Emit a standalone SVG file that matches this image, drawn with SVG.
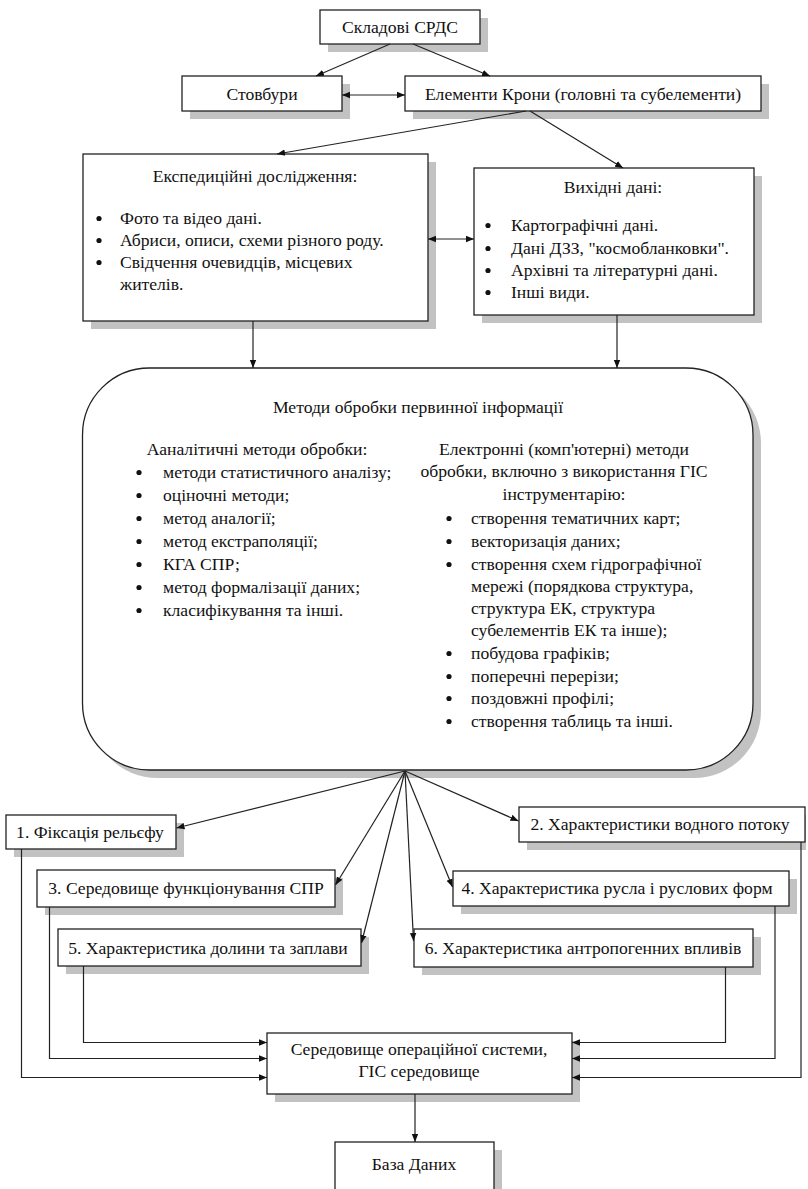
<svg xmlns="http://www.w3.org/2000/svg" width="808" height="1189" viewBox="0 0 808 1189">
<defs>
<style>
.box{fill:#fff;stroke:#222;stroke-width:1.3}
.sh{fill:#c2c2c2}
.t{font-family:"Liberation Serif","Times New Roman",serif;font-size:17.6px;fill:#111}
.c{text-anchor:middle}
.ln{fill:none;stroke:#222;stroke-width:1.2}
.bl{fill:#111}
</style>
<marker id="ah" viewBox="0 0 10 10" refX="10" refY="5" markerWidth="8" markerHeight="8" markerUnits="userSpaceOnUse" orient="auto-start-reverse">
<path d="M0,1 L10,5 L0,9 Z" fill="#111"/>
</marker>
</defs>
<rect width="808" height="1189" fill="#fff"/>

<g id="skladovi">
<rect class="sh" x="328" y="18" width="160" height="34"/>
<rect class="box" x="320" y="10" width="160" height="34"/>
<text class="t c" x="400" y="33">Складові СРДС</text>
</g>

<g id="stovbury">
<rect class="sh" x="190" y="84" width="160" height="35"/>
<rect class="box" x="182" y="76" width="160" height="35"/>
<text class="t c" x="262" y="100">Стовбури</text>
</g>

<g id="elementy">
<rect class="sh" x="413" y="84" width="356" height="35"/>
<rect class="box" x="405" y="76" width="356" height="35"/>
<text class="t c" x="583" y="100">Елементи Крони (головні та субелементи)</text>
</g>

<g id="ekspedytsiyni">
<rect class="sh" x="91" y="162" width="345" height="167"/>
<rect class="box" x="83" y="154" width="345" height="167"/>
<text class="t c" x="255" y="182">Експедиційні дослідження:</text>
<circle class="bl" cx="99" cy="218.5" r="2.6"/>
<circle class="bl" cx="99" cy="240.5" r="2.6"/>
<circle class="bl" cx="99" cy="262.5" r="2.6"/>
<text class="t" x="120" y="224">Фото та відео дані.</text>
<text class="t" x="120" y="246">Абриси, описи, схеми різного роду.</text>
<text class="t" x="120" y="268">Свідчення очевидців, місцевих</text>
<text class="t" x="120" y="290">жителів.</text>
</g>

<g id="vykhidni">
<rect class="sh" x="482" y="176" width="280" height="147"/>
<rect class="box" x="474" y="168" width="280" height="147"/>
<text class="t c" x="613" y="193">Вихідні дані:</text>
<circle class="bl" cx="488" cy="225.5" r="2.6"/>
<circle class="bl" cx="488" cy="248.5" r="2.6"/>
<circle class="bl" cx="488" cy="270.5" r="2.6"/>
<circle class="bl" cx="488" cy="292.5" r="2.6"/>
<text class="t" x="511" y="231">Картографічні дані.</text>
<text class="t" x="511" y="254">Дані ДЗЗ, "космобланковки".</text>
<text class="t" x="511" y="276">Архівні та літературні дані.</text>
<text class="t" x="511" y="298">Інші види.</text>
</g>

<g id="metody">
<rect class="sh" x="90.5" y="376" width="670.5" height="402" rx="67" ry="67"/>
<rect class="box" x="82.5" y="368" width="670.5" height="402" rx="67" ry="67"/>
<text class="t c" x="418" y="413">Методи обробки первинної інформації</text>
<text class="t c" x="257" y="455">Ааналітичні методи обробки:</text>
<circle class="bl" cx="139" cy="472.5" r="2.6"/>
<circle class="bl" cx="139" cy="495.5" r="2.6"/>
<circle class="bl" cx="139" cy="518.5" r="2.6"/>
<circle class="bl" cx="139" cy="541.5" r="2.6"/>
<circle class="bl" cx="139" cy="564.5" r="2.6"/>
<circle class="bl" cx="139" cy="587.5" r="2.6"/>
<circle class="bl" cx="139" cy="610.5" r="2.6"/>
<text class="t" x="163" y="478">методи статистичного аналізу;</text>
<text class="t" x="163" y="501">оціночні методи;</text>
<text class="t" x="163" y="524">метод аналогії;</text>
<text class="t" x="163" y="547">метод екстраполяції;</text>
<text class="t" x="163" y="570">КГА СПР;</text>
<text class="t" x="163" y="593">метод формалізації даних;</text>
<text class="t" x="163" y="616">класифікування та інші.</text>
<text class="t c" x="564" y="455">Електронні (комп'ютерні) методи</text>
<text class="t c" x="564" y="477">обробки, включно з використання ГІС</text>
<text class="t c" x="564" y="500">інструментарію:</text>
<circle class="bl" cx="449" cy="518.5" r="2.6"/>
<circle class="bl" cx="449" cy="541.5" r="2.6"/>
<circle class="bl" cx="449" cy="564.5" r="2.6"/>
<circle class="bl" cx="449" cy="653.5" r="2.6"/>
<circle class="bl" cx="449" cy="676.5" r="2.6"/>
<circle class="bl" cx="449" cy="698.5" r="2.6"/>
<circle class="bl" cx="449" cy="721.5" r="2.6"/>
<text class="t" x="471" y="524">створення тематичних карт;</text>
<text class="t" x="471" y="547">векторизація даних;</text>
<text class="t" x="471" y="570">створення схем гідрографічної</text>
<text class="t" x="471" y="592">мережі (порядкова структура,</text>
<text class="t" x="471" y="614">структура ЕК, структура</text>
<text class="t" x="471" y="636">субелементів ЕК та інше);</text>
<text class="t" x="471" y="659">побудова графіків;</text>
<text class="t" x="471" y="682">поперечні перерізи;</text>
<text class="t" x="471" y="704">поздовжні профілі;</text>
<text class="t" x="471" y="727">створення таблиць та інші.</text>
</g>

<g id="n1">
<rect class="sh" x="14" y="823" width="170" height="34"/>
<rect class="box" x="6" y="815" width="170" height="34"/>
<text class="t c" x="90" y="838">1. Фіксація рельєфу</text>
</g>

<g id="n2">
<rect class="sh" x="527" y="815" width="279" height="35"/>
<rect class="box" x="519" y="807" width="286" height="35"/>
<text class="t c" x="660" y="830">2. Характеристики водного потоку</text>
</g>

<g id="n3">
<rect class="sh" x="45" y="878" width="298" height="37"/>
<rect class="box" x="37" y="870" width="298" height="37"/>
<text class="t c" x="186" y="894">3. Середовище функціонування СПР</text>
</g>

<g id="n4">
<rect class="sh" x="461" y="879" width="336" height="35"/>
<rect class="box" x="453" y="871" width="336" height="35"/>
<text class="t c" x="617" y="894">4. Характеристика русла і руслових форм</text>
</g>

<g id="n5">
<rect class="sh" x="66" y="937" width="303" height="37"/>
<rect class="box" x="58" y="929" width="303" height="37"/>
<text class="t c" x="208" y="954">5. Характеристика долини та заплави</text>
</g>

<g id="n6">
<rect class="sh" x="422" y="937" width="339" height="38"/>
<rect class="box" x="414" y="929" width="339" height="38"/>
<text class="t c" x="583" y="954">6. Характеристика антропогенних впливів</text>
</g>

<g id="os">
<rect class="sh" x="275" y="1041" width="305" height="61"/>
<rect class="box" x="267" y="1033" width="305" height="61"/>
<text class="t c" x="419" y="1055">Середовище операційної системи,</text>
<text class="t c" x="419" y="1077">ГІС середовище</text>
</g>

<g id="baza">
<rect class="sh" x="343" y="1150" width="159" height="48"/>
<rect class="box" x="335" y="1142" width="159" height="48"/>
<text class="t c" x="414" y="1170">База Даних</text>
</g>

<g id="connectors">
<line class="ln" x1="390" y1="44" x2="316" y2="76" marker-end="url(#ah)"/>
<line class="ln" x1="413" y1="44" x2="490" y2="76" marker-end="url(#ah)"/>
<line class="ln" x1="342" y1="95" x2="405" y2="95" marker-start="url(#ah)" marker-end="url(#ah)"/>
<line class="ln" x1="526" y1="111" x2="277" y2="154" marker-end="url(#ah)"/>
<line class="ln" x1="530" y1="111" x2="623" y2="168" marker-end="url(#ah)"/>
<line class="ln" x1="428" y1="239" x2="474" y2="239" marker-start="url(#ah)" marker-end="url(#ah)"/>
<line class="ln" x1="253" y1="321" x2="253" y2="368" marker-end="url(#ah)"/>
<line class="ln" x1="617" y1="315" x2="617" y2="368" marker-end="url(#ah)"/>
<line class="ln" x1="405" y1="771" x2="176.5" y2="828" marker-end="url(#ah)"/>
<line class="ln" x1="405" y1="771" x2="335.5" y2="885" marker-end="url(#ah)"/>
<line class="ln" x1="405" y1="771" x2="361.5" y2="943" marker-end="url(#ah)"/>
<line class="ln" x1="405" y1="771" x2="413.5" y2="941" marker-end="url(#ah)"/>
<line class="ln" x1="405" y1="771" x2="452.5" y2="887" marker-end="url(#ah)"/>
<line class="ln" x1="405" y1="771" x2="518.5" y2="821" marker-end="url(#ah)"/>
<polyline class="ln" points="21.5,849 21.5,1077.5 267,1077.5" marker-end="url(#ah)"/>
<polyline class="ln" points="49.5,907 49.5,1058.5 267,1058.5" marker-end="url(#ah)"/>
<polyline class="ln" points="83.5,966 83.5,1042.5 267,1042.5" marker-end="url(#ah)"/>
<polyline class="ln" points="725.5,967 725.5,1042.5 572,1042.5" marker-end="url(#ah)"/>
<polyline class="ln" points="775,906 775,1058.5 572,1058.5" marker-end="url(#ah)"/>
<polyline class="ln" points="801,842 801,1077.5 572,1077.5" marker-end="url(#ah)"/>
<line class="ln" x1="415" y1="1094" x2="415" y2="1142" marker-end="url(#ah)"/>
</g>
</svg>
